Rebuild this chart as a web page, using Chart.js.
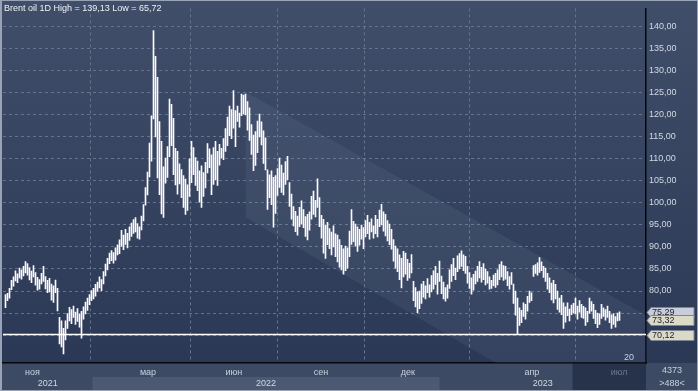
<!DOCTYPE html>
<html>
<head>
<meta charset="utf-8">
<script src="https://cdn.jsdelivr.net/npm/chart.js@4.4.1/dist/chart.umd.min.js"></script>
<style>
  html, body { margin: 0; padding: 0; background: #34425e; }
  #wrap { width: 698px; height: 391px; }
</style>
</head>
<body>
<div id="wrap"><canvas id="chart" width="698" height="391"></canvas></div>
<script>
// Brent oil, daily bars (Oct 2021 - Jul 2023), one entry per bar
const highs = [
  79.2, 79.5, 80.6, 82.4, 83.2, 84.6, 83.9, 85.2, 84.8, 85.6,
  86.7, 86.2, 85.3, 84.5, 85.8, 84.2, 83.1, 82.6, 84.0, 85.6,
  83.3, 82.4, 82.9, 81.6, 81.2, 82.5, 80.6, 74.0, 73.2, 71.5,
  73.2, 74.9, 76.3, 75.8, 76.6, 75.2, 76.0, 74.8, 75.4, 76.4,
  77.5, 78.4, 79.2, 80.1, 80.6, 81.5, 82.0, 83.2, 82.6, 84.4,
  86.1, 87.4, 88.6, 89.2, 88.7, 89.8, 90.5, 91.6, 93.8, 92.7,
  94.0, 93.1, 94.6, 95.4, 96.2, 96.7, 95.3, 94.6, 97.0, 99.6,
  103.5, 107.0, 113.6, 119.8, 139.13, 133.3, 128.5, 118.5, 114.0, 108.2,
  110.2, 112.8, 123.6, 122.4, 119.2, 112.4, 111.7, 108.9, 107.6, 106.2,
  105.4, 104.1, 110.0, 114.0, 112.6, 110.3, 109.5, 107.3, 108.4, 106.9,
  109.2, 113.5, 112.3, 110.9, 112.6, 114.0, 111.7, 113.3, 112.4, 114.6,
  116.9, 119.5, 122.0, 121.2, 125.5, 121.0, 122.0, 120.4, 124.7, 124.5,
  124.7, 123.0, 121.6, 117.8, 115.4, 116.2, 118.6, 120.2, 118.4, 116.4,
  114.8, 107.5, 106.4, 107.3, 105.8, 106.2, 107.8, 110.2, 108.6, 106.8,
  109.4, 110.6, 104.6, 102.0, 99.2, 98.1, 97.0, 99.0, 100.5, 98.5,
  96.9, 97.4, 98.0, 101.5, 102.7, 100.6, 105.5, 101.2, 97.2, 96.3,
  95.0, 95.6, 94.2, 93.4, 94.8, 93.0, 92.7, 91.7, 90.4, 89.6,
  90.2, 89.8, 93.6, 98.5, 95.8, 95.2, 94.6, 94.0, 95.0, 94.4,
  96.0, 97.2, 95.6, 96.4, 94.8, 97.2, 96.3, 98.4, 99.7, 98.0,
  97.4, 96.0, 95.2, 94.0, 91.7, 90.2, 89.6, 88.2, 87.4, 89.0,
  88.6, 87.2, 86.3, 88.3, 82.2, 80.8, 79.8, 80.0, 81.6, 82.2,
  81.2, 82.8, 81.4, 83.5, 84.6, 85.6, 84.0, 86.8, 83.4, 82.0,
  80.8, 81.4, 84.8, 86.0, 87.4, 85.2, 88.0, 88.5, 89.1, 88.2,
  87.9, 85.6, 84.2, 83.0, 83.8, 84.5, 85.6, 86.7, 85.4, 86.2,
  85.0, 84.4, 83.2, 82.4, 83.6, 84.0, 84.8, 86.0, 86.7, 85.8,
  85.6, 84.4, 83.3, 84.2, 81.6, 80.0, 78.4, 76.2, 75.6, 77.3,
  77.0, 78.8, 80.0, 79.6, 85.8, 86.0, 86.4, 87.6, 86.6, 85.6,
  85.2, 84.0, 83.0, 81.8, 82.4, 81.5, 80.0, 78.4, 79.0, 77.3,
  76.4, 77.3, 75.9, 76.8, 77.2, 78.4, 76.6, 77.8, 77.0, 76.5,
  76.2, 75.4, 78.4, 77.6, 77.0, 75.6, 75.0, 74.8, 77.0, 76.2,
  75.8, 76.6, 75.4, 74.6, 74.9, 74.2, 75.0, 75.29
];
const lows = [
  76.2, 77.8, 78.4, 80.3, 81.1, 82.3, 81.9, 83.0, 82.7, 83.4,
  84.1, 83.6, 82.5, 81.9, 83.2, 81.3, 80.2, 80.4, 81.6, 82.2,
  80.5, 79.6, 79.8, 77.9, 77.4, 79.6, 75.5, 68.0, 67.3, 65.72,
  68.9, 71.5, 73.2, 72.6, 74.0, 72.4, 73.1, 71.8, 69.3, 73.6,
  74.8, 75.6, 76.9, 77.8, 78.2, 78.8, 79.9, 80.7, 80.1, 81.6,
  83.4, 84.8, 86.2, 86.9, 86.3, 87.0, 88.2, 88.5, 90.1, 89.4,
  90.6, 89.8, 91.5, 92.4, 93.1, 93.4, 92.0, 91.8, 93.9, 95.9,
  99.5, 101.8, 105.9, 109.5, 119.1, 115.0, 105.7, 101.9, 97.5, 96.7,
  104.5, 105.8, 110.5, 113.0, 106.4, 104.1, 102.0, 104.3, 101.2, 99.0,
  97.4, 98.3, 101.5, 104.6, 106.4, 104.0, 102.8, 100.2, 99.0, 101.5,
  103.4, 106.8, 108.0, 101.9, 104.2, 105.3, 104.0, 108.6, 110.2, 109.8,
  111.7, 113.0, 115.3, 114.6, 117.0, 112.8, 118.5, 117.2, 119.8, 120.2,
  120.0, 116.5, 114.2, 111.0, 107.3, 108.5, 111.4, 115.0, 113.2, 109.0,
  107.5, 98.5, 101.2, 99.6, 94.5, 97.6, 101.7, 103.5, 102.4, 101.8,
  104.2, 105.3, 99.2, 96.3, 94.8, 93.5, 92.7, 94.6, 95.2, 94.4,
  92.4, 91.6, 93.8, 96.3, 97.4, 96.8, 99.0, 94.6, 92.0, 88.6,
  87.4, 90.5, 89.6, 88.2, 90.0, 87.8, 86.6, 85.4, 84.8, 83.8,
  84.6, 85.2, 87.8, 90.6, 91.2, 90.2, 89.0, 90.4, 91.8, 89.6,
  92.3, 93.0, 91.8, 93.4, 92.0, 93.0, 92.3, 94.6, 95.0, 93.6,
  92.5, 91.4, 90.5, 89.5, 86.8, 85.2, 84.4, 82.6, 80.7, 83.2,
  83.8, 82.4, 83.0, 84.1, 77.8, 76.4, 75.1, 76.0, 77.2, 78.6,
  78.2, 79.6, 78.6, 79.8, 80.4, 81.5, 79.3, 82.2, 79.4, 78.2,
  77.7, 78.4, 80.6, 82.2, 83.5, 82.6, 84.4, 85.0, 85.6, 84.6,
  84.0, 81.8, 80.6, 79.3, 80.2, 81.6, 82.2, 83.0, 82.0, 82.6,
  81.4, 81.8, 80.4, 80.6, 81.2, 80.8, 81.4, 82.6, 83.2, 82.4,
  82.7, 81.2, 80.4, 81.5, 77.2, 74.5, 70.12, 72.2, 72.8, 74.2,
  73.6, 75.4, 77.4, 77.8, 83.3, 84.0, 83.6, 84.2, 84.6, 83.1,
  82.2, 80.4, 79.6, 78.0, 77.3, 78.2, 75.8, 75.2, 74.6, 71.5,
  72.9, 74.4, 73.2, 74.6, 75.0, 74.8, 73.6, 75.2, 74.0, 73.8,
  72.2, 73.0, 74.9, 75.4, 73.8, 72.6, 71.7, 72.4, 73.8, 74.2,
  73.4, 74.0, 72.8, 71.5, 72.4, 71.8, 73.2, 73.32
];

// month marks on the bar index axis
const monthTicks = [13.5, 71.25, 114.2, 157.8, 201.2, 263.2, 306.8];
const monthLabels = ['ноя', 'мар', 'июн', 'сен', 'дек', 'апр', 'июл'];
const yearLabels = ['2021', '2022', '2023'];
const yearEdges = [-1.25, 43.5, 217, 320.25];
const priceTicks = [70, 75, 80, 85, 90, 95, 100, 105, 110, 115, 120, 125, 130, 135, 140];

// descending channel (bar index, price)
const channelTop = [{ x: 120, y: 125.17 }, { x: 320.25, y: 74.5 }];
const channelBottom = [{ x: 120, y: 96.76 }, { x: 320.25, y: 43.8 }];

const supportLevel = 70.12;
const levelValues = [75.29, 73.32, 70.12];
const levelColors = ['#c9ccda', '#dadac6', '#dadac6'];

const titleText = 'Brent oil 1D High = 139,13 Low = 65,72';
const FONT = '"Liberation Sans", Arial, sans-serif';

const fmt = v => v.toFixed(2).replace('.', ',');

const decor = {
    id: 'decor',
    beforeDraw(chart) {
        const { ctx, width, height, chartArea: a, scales: { x } } = chart;
        ctx.save();
        const g = ctx.createLinearGradient(0, 0, 0, height);
        g.addColorStop(0, '#404e6a');
        g.addColorStop(1, '#2a3754');
        ctx.fillStyle = g;
        ctx.fillRect(0, 0, width, height);

        // bottom date strip
        ctx.fillStyle = '#3d4a64';
        ctx.fillRect(0, a.bottom, width, height - a.bottom);
        const x1 = x.getPixelForValue(yearEdges[1]);
        const x2 = x.getPixelForValue(yearEdges[2]);
        ctx.fillStyle = '#4b5973';
        ctx.fillRect(x1, a.bottom + 14, x2 - x1, height - a.bottom - 14);
        // current month box
        const xb = x.getPixelForValue(283.5);
        ctx.fillStyle = '#27334b';
        ctx.fillRect(xb, a.bottom, a.right - xb, height - a.bottom);
        ctx.restore();
    },
    afterDraw(chart) {
        const { ctx, width, height, chartArea: a, scales: { x, y } } = chart;
        ctx.save();
        ctx.font = '9px ' + FONT;
        ctx.textBaseline = 'middle';

        // year labels
        ctx.fillStyle = '#d3d9e3';
        ctx.textAlign = 'center';
        yearLabels.forEach((lbl, i) => {
            const l = Math.max(a.left, x.getPixelForValue(yearEdges[i]));
            const r = Math.min(a.right, x.getPixelForValue(yearEdges[i + 1]));
            ctx.fillText(lbl, (l + r) / 2, a.bottom + 21);
        });

        // price level tags on the right axis
        ctx.textAlign = 'left';
        levelValues.forEach((v, i) => {
            const py = Math.round(y.getPixelForValue(v)) + 0.5;
            ctx.beginPath();
            ctx.moveTo(a.right + 1, py);
            ctx.lineTo(a.right + 5, py - 5);
            ctx.lineTo(a.right + 48, py - 5);
            ctx.lineTo(a.right + 48, py + 5);
            ctx.lineTo(a.right + 5, py + 5);
            ctx.closePath();
            ctx.fillStyle = levelColors[i];
            ctx.fill();
            ctx.strokeStyle = '#7d8494';
            ctx.lineWidth = 1;
            ctx.stroke();
            ctx.fillStyle = '#1c2130';
            ctx.fillText(fmt(v), a.right + 6, py + 0.5);
        });

        // title
        ctx.fillStyle = '#eef1f5';
        ctx.fillText(titleText, 4, 9);

        // small marks
        ctx.fillStyle = '#c9d0dc';
        ctx.textAlign = 'center';
        ctx.fillText('20', 629, 358);
        ctx.fillText('4373', 672, a.bottom + 8);
        ctx.fillText('>488<', 672, a.bottom + 21);

        // frame
        ctx.strokeStyle = '#9aa3b5';
        ctx.lineWidth = 1;
        ctx.strokeRect(0.5, 0.5, width - 1, height - 1);
        ctx.fillStyle = '#9aa3b5';
        ctx.fillRect(0, 0, 2, height);
        ctx.restore();
    }
};

const barData = highs.map((h, i) => ({ x: i, y: [lows[i], h] }));

new Chart(document.getElementById('chart'), {
    type: 'bar',
    data: {
        datasets: [
            {
                type: 'line',
                data: channelTop,
                borderWidth: 0,
                pointRadius: 0,
                fill: '+1',
                backgroundColor: 'rgba(160,175,200,0.09)',
                order: 5
            },
            {
                type: 'line',
                data: channelBottom,
                borderWidth: 0,
                pointRadius: 0,
                fill: false,
                order: 4
            },
            {
                data: barData,
                backgroundColor: '#fdf8fa',
                barThickness: 1,
                grouped: false,
                order: 2
            },
            {
                type: 'line',
                data: [{ x: -1.25, y: supportLevel }, { x: 320.25, y: supportLevel }],
                borderColor: '#ffffff',
                borderWidth: 1.6,
                pointRadius: 0,
                fill: false,
                order: 1
            }
        ]
    },
    options: {
        responsive: false,
        animation: false,
        layout: { padding: { left: 3, top: 3, right: 0, bottom: 0 } },
        plugins: {
            legend: { display: false },
            tooltip: { enabled: false }
        },
        scales: {
            x: {
                type: 'linear',
                min: -1.25,
                max: 320.25,
                offset: false,
                afterBuildTicks: s => { s.ticks = monthTicks.map(v => ({ value: v })); },
                afterFit: s => { s.height = 28; },
                grid: { color: '#66738d', drawTicks: false, lineWidth: 1 },
                border: { display: true, color: '#05070c', width: 1.5, dash: [3, 3] },
                ticks: {
                    autoSkip: false,
                    maxRotation: 0,
                    padding: 4,
                    font: { family: FONT, size: 9 },
                    color: c => c.index === 6 ? '#6c7890' : '#c9d1dd',
                    callback: (v, i) => monthLabels[i]
                }
            },
            y: {
                position: 'right',
                min: 63.65,
                max: 144.18,
                afterBuildTicks: s => { s.ticks = priceTicks.map(v => ({ value: v })); },
                afterFit: s => { s.width = 52; },
                grid: { color: '#66738d', drawTicks: false, lineWidth: 1 },
                border: { display: true, color: '#05070c', width: 1.5, dash: [3, 3] },
                ticks: {
                    padding: 3,
                    font: { family: FONT, size: 9 },
                    color: '#d3d9e3',
                    callback: v => v >= 80 ? fmt(v) : ''
                }
            }
        }
    },
    plugins: [decor]
});
</script>
</body>
</html>
